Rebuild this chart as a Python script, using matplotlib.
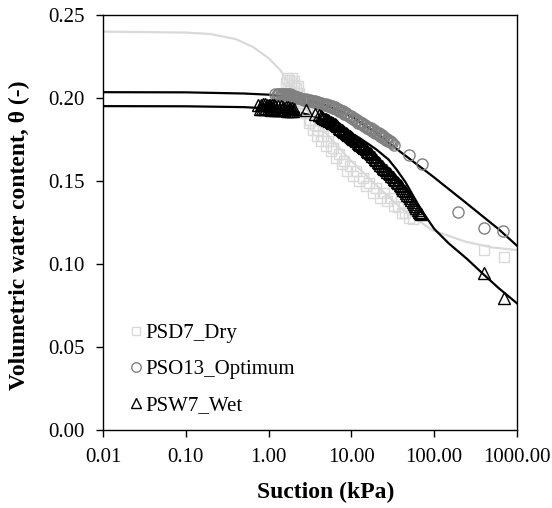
import matplotlib
matplotlib.use("Agg")
import matplotlib.pyplot as plt

plt.rcParams['font.family'] = ['Liberation Serif', 'DejaVu Serif']

# fitted curves
dry_fit_s = [0.01, 0.1, 0.2, 0.4, 0.65, 1.0, 1.4, 1.8, 2.8, 4.0, 5.4, 9.5, 20, 38, 60, 95, 240, 500, 1000]
dry_fit_t = [0.2400, 0.2394, 0.2385, 0.2355, 0.2307, 0.2240, 0.2165, 0.2080, 0.1935, 0.1840, 0.1766,
             0.1630, 0.1475, 0.1344, 0.1272, 0.1204, 0.1134, 0.1100, 0.1084]

opt_fit_s = [0.01, 0.1, 0.5, 1.0, 2.0, 3.0, 5.0, 10, 20, 38, 95, 240, 600, 1000]
opt_fit_t = [0.2035, 0.2034, 0.2027, 0.2020, 0.2003, 0.1985, 0.1955, 0.1890, 0.1790, 0.1680,
             0.1530, 0.1370, 0.1210, 0.1110]

wet_fit_s = [0.01, 0.1, 0.5, 1.0, 2.0, 3.0, 5.0, 8.0, 12.5, 20, 28, 35, 45, 55, 70, 100, 150, 250,
             380, 600, 1000]
wet_fit_t = [0.1951, 0.1950, 0.1945, 0.1937, 0.1920, 0.1900, 0.1862, 0.1810, 0.1760, 0.1690, 0.1630,
             0.1570, 0.1493, 0.1416, 0.1325, 0.1212, 0.1124, 0.1030, 0.0945, 0.0855, 0.0763]

# measured points
dry_s = [1.6, 1.65, 1.7, 1.75, 1.8, 1.85, 1.9, 1.95, 2.0, 2.05, 2.1, 2.15, 2.2, 2.25, 2.3, 2.35,
         2.45, 2.6, 2.75, 2.9, 3.05, 3.2, 3.4, 3.6, 3.8, 4.0, 4.3, 4.6, 4.9, 5.2, 5.6, 6.0, 6.5, 7.0,
         7.6, 8.2, 8.9, 9.7, 10.5, 11.5, 12.5, 13.7, 15, 16.5, 18, 20, 22, 24.5, 27, 30, 33, 37, 41,
         45, 50, 55, 400, 700]
dry_t = [0.209, 0.212, 0.206, 0.211, 0.204, 0.209, 0.212, 0.203, 0.208, 0.210, 0.201, 0.206, 0.203,
         0.207, 0.199, 0.203, 0.198, 0.197, 0.191, 0.191, 0.185, 0.187, 0.181, 0.184, 0.177, 0.181,
         0.174, 0.177, 0.171, 0.174, 0.168, 0.170, 0.164, 0.166, 0.160, 0.162, 0.156, 0.159, 0.153,
         0.156, 0.150, 0.152, 0.147, 0.149, 0.143, 0.146, 0.140, 0.143, 0.138, 0.1395, 0.135, 0.1345,
         0.131, 0.131, 0.1275, 0.127, 0.1084, 0.1043]

opt_s = [1.2, 1.25, 1.3, 1.35, 1.4, 1.45, 1.5, 1.55, 1.6, 1.65, 1.7, 1.75, 1.8, 1.85, 1.9, 1.95,
         2.0, 2.05, 2.1, 2.15, 2.2, 2.3, 2.4, 2.5, 2.6, 2.7, 2.8, 2.9, 3.0, 3.1, 3.2, 3.3, 3.4, 3.5,
         3.6, 3.7, 3.8, 3.9, 4.0, 4.15, 4.3, 4.45, 4.6, 4.8, 5.0, 5.2, 5.4, 5.6, 5.8, 6.05, 6.3,
         6.55, 6.8, 7.05, 7.3, 7.6, 7.9, 8.2, 8.5, 8.85, 9.2, 9.6, 10, 10.4, 10.8, 11.25, 11.7,
         12.15, 12.6, 13.1, 13.6, 14.15, 14.7, 15.3, 15.9, 16.5, 17.2, 17.9, 18.6, 19.3, 20, 20.8,
         21.6, 22.4, 23.3, 24.1, 25, 26, 27, 28, 29, 30, 31, 33, 49, 72, 196, 400, 684]
opt_t = [0.2025, 0.2020, 0.2027, 0.2022, 0.2026, 0.2021, 0.2027, 0.2022, 0.2026, 0.2020, 0.2024,
         0.2019, 0.2024, 0.2017, 0.2020, 0.2013, 0.2011, 0.2006, 0.2008, 0.2002, 0.2004, 0.1999,
         0.2000, 0.1994, 0.1996, 0.1990, 0.1993, 0.1987, 0.1990, 0.1983, 0.1987, 0.1980, 0.1983,
         0.1976, 0.1980, 0.1973, 0.1977, 0.1970, 0.1974, 0.1966, 0.1970, 0.1961, 0.1966, 0.1956,
         0.1961, 0.1951, 0.1955, 0.1945, 0.1949, 0.1939, 0.1943, 0.1932, 0.1935, 0.1924, 0.1928,
         0.1916, 0.1920, 0.1906, 0.1910, 0.1896, 0.1900, 0.1885, 0.1889, 0.1874, 0.1878, 0.1862,
         0.1866, 0.1851, 0.1855, 0.1842, 0.1848, 0.1832, 0.1838, 0.1822, 0.1828, 0.1812, 0.1818,
         0.1802, 0.1808, 0.1792, 0.1798, 0.1782, 0.1787, 0.1770, 0.1775, 0.1758, 0.1763, 0.1748,
         0.1752, 0.1740, 0.1742, 0.1732, 0.1728, 0.1716, 0.1656, 0.1605, 0.1314, 0.1218, 0.1198]

wet_s = [0.75, 0.78, 0.8, 0.83, 0.85, 0.88, 0.9, 0.93, 0.95, 0.98, 1.0, 1.03, 1.05, 1.08, 1.1,
         1.13, 1.15, 1.18, 1.2, 1.25, 1.3, 1.35, 1.4, 1.45, 1.5, 1.55, 1.6, 1.65, 1.7, 1.75, 1.8,
         1.85, 1.9, 1.95, 2.0, 2.85, 3.6, 4.1, 4.3, 4.45, 4.6, 4.75, 4.9, 5.05, 5.2, 5.4, 5.6, 5.8,
         6.0, 6.25, 6.5, 6.75, 7.0, 7.3, 7.6, 7.9, 8.2, 8.5, 8.8, 9.15, 9.5, 9.85, 10.2, 10.6, 11.0,
         11.45, 11.9, 12.35, 12.8, 13.3, 13.8, 14.35, 14.9, 15.45, 16.0, 16.6, 17.2, 17.85, 18.5,
         19.25, 20.0, 20.75, 21.5, 22.35, 23.2, 24.1, 25.0, 26.0, 27.0, 28.1, 29.2, 30.3, 31.5,
         32.7, 34.0, 35.3, 36.7, 38.1, 39.5, 41.0, 42.5, 44.1, 45.8, 47.5, 49.3, 51, 53, 55, 57, 59,
         61, 63, 65, 67, 69, 400, 700]
wet_t = [0.1958, 0.1932, 0.1960, 0.1935, 0.1962, 0.1933, 0.1962, 0.1938, 0.1960, 0.1932, 0.1958,
         0.1935, 0.1957, 0.1930, 0.1955, 0.1932, 0.1956, 0.1929, 0.1952, 0.1930, 0.1953, 0.1927,
         0.1950, 0.1926, 0.1948, 0.1928, 0.1945, 0.1924, 0.1944, 0.1922, 0.1941, 0.1921, 0.1938,
         0.1920, 0.1935, 0.1926, 0.1906, 0.1896, 0.1890, 0.1883, 0.1880, 0.1874, 0.1872, 0.1867,
         0.1866, 0.1860, 0.1858, 0.1851, 0.1848, 0.1842, 0.1836, 0.1829, 0.1822, 0.1815, 0.1808,
         0.1801, 0.1795, 0.1788, 0.1782, 0.1776, 0.1770, 0.1763, 0.1757, 0.1751, 0.1745, 0.1738,
         0.1731, 0.1724, 0.1718, 0.1711, 0.1704, 0.1697, 0.1690, 0.1682, 0.1675, 0.1667, 0.1660,
         0.1651, 0.1643, 0.1634, 0.1625, 0.1615, 0.1606, 0.1598, 0.1590, 0.1581, 0.1573, 0.1564,
         0.1556, 0.1548, 0.1540, 0.1531, 0.1522, 0.1513, 0.1504, 0.1495, 0.1486, 0.1476, 0.1467,
         0.1457, 0.1447, 0.1437, 0.1428, 0.1418, 0.1408, 0.1397, 0.1386, 0.1374, 0.1362, 0.1350,
         0.1338, 0.1327, 0.1316, 0.1308, 0.1300, 0.0943, 0.0793]

xticks = [0.01, 0.1, 1, 10, 100, 1000]
xtick_labels = ["0.01", "0.10", "1.00", "10.00", "100.00", "1000.00"]
yticks = [0.00, 0.05, 0.10, 0.15, 0.20, 0.25]
ytick_labels = ["0.00", "0.05", "0.10", "0.15", "0.20", "0.25"]

light = "#d9d9d9"
mid = "#808080"

fig = plt.figure(figsize=(5.52, 5.08), dpi=100)
ax = fig.add_axes([0.1866, 0.1535, 0.75, 0.817])

ax.plot(dry_fit_s, dry_fit_t, color=light, lw=1.6, zorder=2)
ax.plot(opt_fit_s, opt_fit_t, color="black", lw=1.6, zorder=2)
ax.plot(wet_fit_s, wet_fit_t, color="black", lw=1.6, zorder=2)

ax.plot(dry_s, dry_t, ls="none", marker="s", ms=7.5, mfc="none", mec=light, mew=1.0,
        label="PSD7_Dry", zorder=3)
ax.plot(opt_s, opt_t, ls="none", marker="o", ms=8, mfc="none", mec=mid, mew=1.0,
        label="PSO13_Optimum", zorder=4)
ax.plot(wet_s, wet_t, ls="none", marker="^", ms=8, mfc="none", mec="black", mew=1.0,
        label="PSW7_Wet", zorder=5)

ax.set_xscale("log")
ax.set_xlim(0.01, 1000)
ax.set_ylim(0, 0.25)
ax.set_xticks(xticks)
ax.set_xticklabels(xtick_labels)
ax.set_yticks(yticks)
ax.set_yticklabels(ytick_labels)
ax.xaxis.set_minor_locator(matplotlib.ticker.NullLocator())
ax.tick_params(axis="both", direction="out", length=5, width=1, labelsize=15, pad=8)

for sp in ax.spines.values():
    sp.set_linewidth(1.0)

ax.set_xlabel("Suction (kPa)", fontsize=17, fontweight="bold")
ax.set_ylabel("Volumetric water content, θ (-)", fontsize=17, fontweight="bold")
ax.xaxis.set_label_coords(0.539, -0.125)
ax.yaxis.set_label_coords(-0.176, 0.47)

ax.legend(loc="lower left", bbox_to_anchor=(0.02, -0.01), frameon=False, fontsize=15,
          handlelength=0.6, handletextpad=0.15, labelspacing=0.8, markerscale=0.85)

fig.savefig("out.png", dpi=100)
